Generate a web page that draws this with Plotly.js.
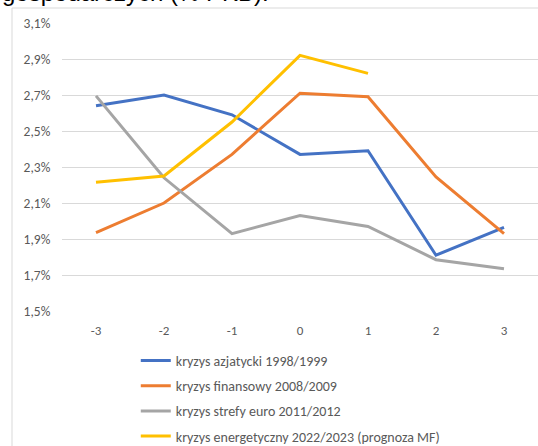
<!DOCTYPE html>
<html>
<head>
<meta charset="utf-8">
<script src="https://cdn.plot.ly/plotly-3.0.1.min.js"></script>
<style>html,body{margin:0;padding:0;background:#fff;overflow:hidden}</style>
</head>
<body>
<div id="chart" style="width:538px;height:446px"></div>
<script>
const categories = ["-3", "-2", "-1", "0", "1", "2", "3"];
const seriesNames = [
  "kryzys azjatycki 1998/1999",
  "kryzys finansowy 2008/2009",
  "kryzys strefy euro 2011/2012",
  "kryzys energetyczny 2022/2023 (prognoza MF)"
];
const azjatycki = [2.64, 2.70, 2.59, 2.37, 2.39, 1.81, 1.965];
const finansowy = [1.935, 2.10, 2.37, 2.71, 2.69, 2.245, 1.93];
const strefaEuro = [2.695, 2.24, 1.93, 2.03, 1.97, 1.785, 1.735];
const energetyczny = [2.215, 2.25, 2.55, 2.92, 2.82];
const yTicks = [1.5, 1.7, 1.9, 2.1, 2.3, 2.5, 2.7, 2.9, 3.1];
const yTickText = ["1,5%", "1,7%", "1,9%", "2,1%", "2,3%", "2,5%", "2,7%", "2,9%", "3,1%"];
const titleText = "gospodarczych (% PKB).";

const colors = ["#4472C4", "#ED7D31", "#A5A5A5", "#FFC000"];
const allSeries = [azjatycki, finansowy, strefaEuro, energetyczny];
const traces = allSeries.map((vals, i) => ({
  type: "scatter",
  mode: "lines",
  x: categories.slice(0, vals.length),
  y: vals,
  name: seriesNames[i],
  legendgroup: "g" + i,
  line: {color: colors[i], width: 3},
  hoverinfo: "skip"
}));

const font = "Carlito, Calibri, 'Liberation Sans', Arial, sans-serif";
const layout = {
  width: 538, height: 446,
  margin: {l: 62, r: 0, t: 23, b: 135, autoexpand: false},
  paper_bgcolor: "#fff", plot_bgcolor: "#fff",
  font: {family: font, size: 13, color: "#595959"},
  showlegend: true,
  legend: {
    x: 0.155, xanchor: "left", y: -0.135 + 5 / 288, yanchor: "top",
    orientation: "v", traceorder: "grouped", tracegroupgap: 4,
    font: {family: font, size: 14, color: "#595959"},
    bgcolor: "rgba(0,0,0,0)", borderwidth: 0
  },
  xaxis: {
    type: "category", categoryarray: categories, categoryorder: "array",
    range: [-0.5, 6.5], showgrid: false, zeroline: false, showline: false,
    ticks: "outside", ticklen: 7, tickcolor: "rgba(0,0,0,0)",
    tickfont: {family: font, size: 13, color: "#595959"}, fixedrange: true
  },
  yaxis: {
    range: [1.5, 3.1], tickvals: yTicks, ticktext: yTickText,
    showgrid: true, gridcolor: "#d9d9d9", gridwidth: 1, zeroline: false, showline: false,
    ticks: "outside", ticklen: 8, tickcolor: "rgba(0,0,0,0)",
    tickfont: {family: font, size: 13.5, color: "#595959"}, fixedrange: true
  },
  shapes: [{
    type: "rect", xref: "paper", yref: "paper", layer: "below",
    x0: (12 - 62) / 476, x1: 1.05, y0: -0.6, y1: 1 + (23 - 8) / 288,
    line: {color: "#d9d9d9", width: 1}, fillcolor: "rgba(0,0,0,0)"
  }],
  annotations: [{
    text: titleText, xref: "paper", yref: "paper",
    x: (0 - 62) / 476, xanchor: "left", y: 1 + (23 - 8) / 288, yanchor: "bottom",
    showarrow: false, font: {family: "'Liberation Sans', Arial, sans-serif", size: 24, color: "#000"}
  }]
};
Plotly.newPlot("chart", traces, layout, {displayModeBar: false, staticPlot: true});
</script>
</body>
</html>
